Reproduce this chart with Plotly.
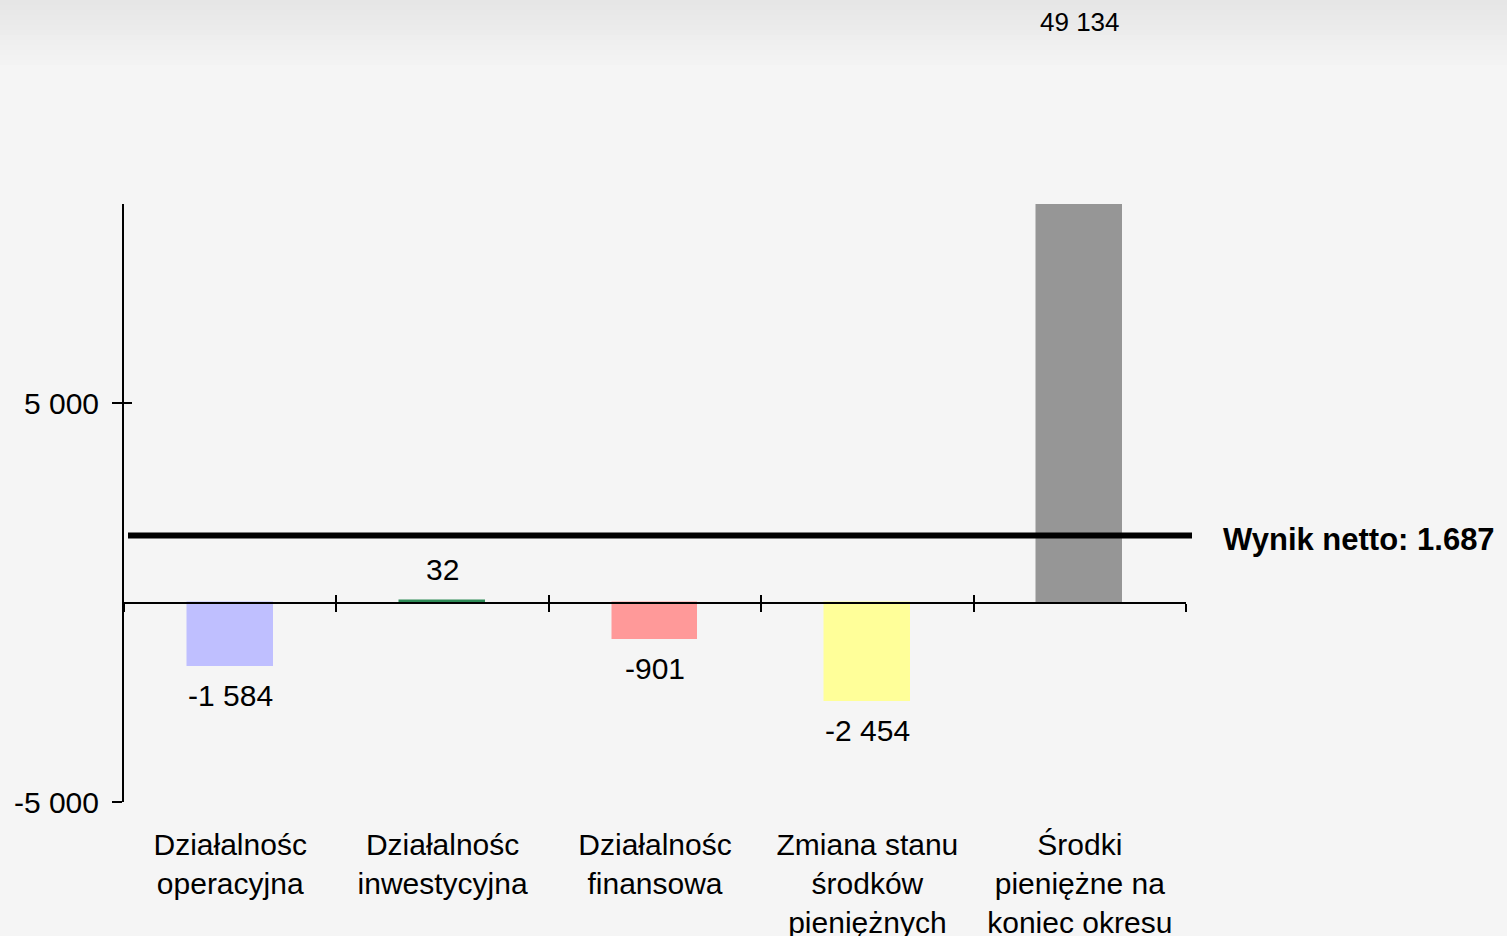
import plotly.graph_objects as go

categories = ["Działalnośc<br>operacyjna", "Działalnośc<br>inwestycyjna", "Działalnośc<br>finansowa",
              "Zmiana stanu<br>środków<br>pieniężnych", "Środki<br>pieniężne na<br>koniec okresu"]
values = [-1584, 32, -901, -2454, 49134]
value_labels = ["-1 584", "32", "-901", "-2 454", "49 134"]
colors = ["#bfbfff", "#2e8b57", "#ff9999", "#ffff99", "#969696"]
net_result = 1687
net_label = "Wynik netto: 1.687"
y_ticks = [-5000, 5000]
y_tick_labels = ["-5 000", "5 000"]
y_range = [-5000, 10000]

W, H = 1507, 936
ML, MR, MT, MB = 124, 321, 204, 134
plot_h = H - MT - MB
plot_w = W - ML - MR
FONT = "Liberation Sans, Arial, sans-serif"
FS = 30

xs = list(range(len(values)))
fig = go.Figure()
fig.add_trace(go.Bar(
    x=xs, y=values, width=0.4,
    marker=dict(color=colors, line=dict(color=colors, width=1.5)),
    hoverinfo="skip", showlegend=False,
))
# empty traces so the overlay axes (crossing ticks) are drawn
for xa, ya in [("x2", "y"), ("x3", "y"), ("x", "y2")]:
    fig.add_trace(go.Scatter(x=[], y=[], xaxis=xa, yaxis=ya, showlegend=False, hoverinfo="skip"))

annotations = []
for i, (v, lab) in enumerate(zip(values, value_labels)):
    if v > y_range[1]:
        annotations.append(dict(x=i, y=(H - MB - 22) / plot_h, xref="x", yref="paper",
                                text=lab, showarrow=False, yanchor="middle",
                                font=dict(size=26, color="black", family=FONT)))
    elif v >= 0:
        annotations.append(dict(x=i, y=v, xref="x", yref="y", text=lab, showarrow=False,
                                yanchor="bottom", yshift=13,
                                font=dict(size=FS, color="black", family=FONT)))
    else:
        annotations.append(dict(x=i, y=v, xref="x", yref="y", text=lab, showarrow=False,
                                yanchor="top", yshift=-11,
                                font=dict(size=FS, color="black", family=FONT)))

annotations.append(dict(x=(1221 - ML) / plot_w, y=net_result, xref="paper", yref="y",
                        text="<b>" + net_label + "</b>", showarrow=False,
                        xanchor="left", yanchor="middle", yshift=-4,
                        font=dict(size=31, color="black", family=FONT)))

shapes = []
n = 14
for k in range(n):
    y0 = k * 5
    g = int(0xe6 + (0xf5 - 0xe6) * k / (n - 1))
    col = f"rgb({g},{g},{g})"
    shapes.append(dict(type="rect", xref="paper", yref="paper",
                       x0=-ML / plot_w, x1=(W - ML) / plot_w,
                       y0=(H - MB - y0 - 5) / plot_h, y1=(H - MB - y0) / plot_h,
                       fillcolor=col, line=dict(width=0), layer="below"))
shapes.append(dict(type="line", xref="paper", yref="y",
                   x0=4 / plot_w, x1=(1192 - ML) / plot_w,
                   y0=net_result, y1=net_result, line=dict(color="black", width=6)))

zero_pos = (0 - y_range[0]) / (y_range[1] - y_range[0])
bounds = [i - 0.5 for i in range(len(values) + 1)]

fig.update_layout(
    width=W, height=H,
    margin=dict(l=ML, r=MR, t=MT, b=MB, autoexpand=False),
    paper_bgcolor="#f5f5f5", plot_bgcolor="rgba(0,0,0,0)",
    font=dict(family=FONT, size=FS, color="black"),
    showlegend=False,
    xaxis=dict(range=[-0.5, len(values) - 0.5], tickmode="array", tickvals=xs, ticktext=categories,
               showline=False, ticks="", showgrid=False, zeroline=False, automargin=False,
               tickfont=dict(size=FS, family=FONT, color="black"), ticklabelstandoff=22,
               fixedrange=True),
    xaxis2=dict(overlaying="x", matches="x", anchor="free", position=zero_pos,
                tickmode="array", tickvals=bounds, showticklabels=False, automargin=False,
                showline=True, linecolor="black", linewidth=2,
                ticks="outside", ticklen=8, tickwidth=2, tickcolor="black",
                showgrid=False, zeroline=False),
    xaxis3=dict(overlaying="x", matches="x", anchor="free", position=zero_pos,
                tickmode="array", tickvals=bounds, showticklabels=False, automargin=False,
                showline=False, ticks="inside", ticklen=8, tickwidth=2, tickcolor="black",
                showgrid=False, zeroline=False),
    yaxis=dict(range=y_range, tickmode="array", tickvals=y_ticks, ticktext=y_tick_labels,
               showline=True, linecolor="black", linewidth=2, automargin=False,
               ticks="outside", ticklen=10, tickwidth=2, tickcolor="black",
               showgrid=False, zeroline=False, ticklabelstandoff=7,
               tickfont=dict(size=FS, family=FONT, color="black")),
    yaxis2=dict(overlaying="y", matches="y", anchor="x", side="left", automargin=False,
                tickmode="array", tickvals=y_ticks, showticklabels=False,
                showline=False, ticks="inside", ticklen=8, tickwidth=2, tickcolor="black",
                showgrid=False, zeroline=False),
    annotations=annotations,
    shapes=shapes,
    bargap=0,
)

fig.write_html("out.html", config={"displayModeBar": False},
               post_script="document.body.style.margin='0';")
